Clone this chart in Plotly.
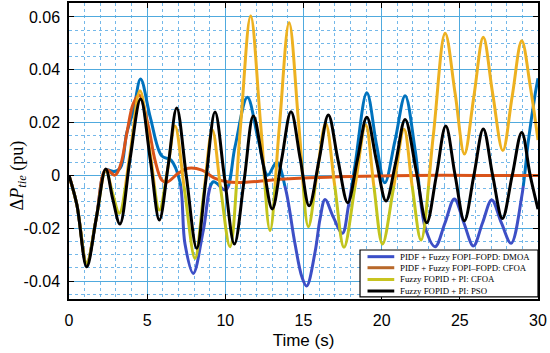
import plotly.graph_objects as go

# ---------------- data ----------------
t_dmoa = [0, 0.5, 1.13, 1.75, 2.35, 2.9, 3.3, 3.69, 4.12, 4.58, 5.2, 5.93, 6.53, 7.1, 7.42, 7.95,
          8.6, 9.23, 10.02, 10.62, 11.41, 12.11, 12.71, 13.29, 13.85, 14.45, 14.9, 15.2, 15.74,
          16.06, 16.38, 16.9, 17.49, 17.87, 18.3, 19.05, 19.68, 20.2, 20.86, 21.5, 22.14, 22.78,
          23.42, 24.05, 24.65, 25.26, 25.87, 26.45, 27.04, 27.66, 28.28, 28.96, 29.39, 29.82, 30]
y_dmoa = [0, -0.011, -0.0335, -0.016, 0.002, 0.0015, 0.003, 0.016, 0.0245, 0.0365, 0.022, 0.0074,
          0.0058, -0.0025, -0.026, -0.0371, -0.0205, -0.0024, -0.0055, 0.0109, 0.0296, 0.0134,
          0.0001, 0.005, -0.005, -0.0257, -0.0385, -0.0419, -0.029, -0.0164, -0.0091, -0.0157,
          -0.0219, -0.0118, 0.004, 0.0313, 0.0113, -0.0028, 0.0134, 0.0302, 0.0096, -0.0196,
          -0.027, -0.018, -0.0089, -0.018, -0.0267, -0.018, -0.0093, -0.018, -0.0257, -0.008,
          0.0134, 0.0308, 0.0368]

t_pidf_cfoa = [0, 0.5, 1.13, 1.75, 2.35, 2.94, 3.3, 3.7, 4.1, 4.48, 5.08, 5.5, 5.93, 6.25, 6.99,
               7.63, 8.5, 9.3, 10.2, 11.5, 13.0, 15.4, 18.0, 22.0, 26.0, 30.0]
y_pidf_cfoa = [0, -0.011, -0.0333, -0.016, 0.0022, 0.0001, 0.004, 0.016, 0.027, 0.0305, 0.0185,
               0.0058, -0.0017, -0.0026, 0.0008, 0.0027, 0.002, -0.001, -0.0025, -0.0025, -0.0017,
               -0.0009, -0.0004, 0.0, 0.0, 0.0]

t_fopid_cfoa = [0, 0.5, 1.13, 1.75, 2.35, 2.8, 3.22, 3.9, 4.54, 5.2, 5.78, 6.3, 6.78, 7.4, 8.06,
                8.6, 9.17, 9.7, 10.3, 10.95, 11.62, 12.25, 12.86, 13.45, 14.08, 14.7, 15.31, 15.85,
                16.42, 17.0, 17.59, 18.3, 18.98, 19.5, 20.05, 20.75, 21.43, 21.95, 22.52, 23.3,
                24.06, 24.7, 25.29, 25.9, 26.5, 27.1, 27.75, 28.35, 28.96, 29.5, 30]
y_fopid_cfoa = [0, -0.011, -0.0333, -0.016, 0.002, -0.007, -0.0143, 0.008, 0.0321, 0.008, -0.0131,
                0.002, 0.0187, -0.006, -0.0314, -0.008, 0.0172, -0.005, -0.027, 0.017, 0.0604,
                0.02, -0.0209, 0.018, 0.0578, 0.019, -0.0194, 0.0, 0.0197, -0.004, -0.0272,
                -0.004, 0.0191, -0.004, -0.026, -0.005, 0.0175, -0.004, -0.0245, 0.015, 0.0538,
                0.031, 0.0081, 0.030, 0.0523, 0.031, 0.0094, 0.030, 0.051, 0.034, 0.0134]

t_pso = [0, 0.5, 1.13, 1.75, 2.35, 2.8, 3.26, 3.9, 4.58, 5.2, 5.78, 6.35, 6.89, 7.5, 8.17, 8.75,
         9.34, 9.95, 10.58, 11.2, 11.79, 12.4, 13.0, 13.6, 14.2, 14.8, 15.36, 16.0, 16.59, 17.2,
         17.83, 18.45, 19.05, 19.65, 20.28, 20.9, 21.5, 22.2, 22.88, 23.5, 24.1, 24.7, 25.29,
         25.9, 26.5, 27.1, 27.72, 28.35, 28.96, 29.5, 30]
y_pso = [0, -0.011, -0.0346, -0.016, 0.0024, -0.009, -0.0184, 0.006, 0.0289, 0.006, -0.0169,
         0.004, 0.0255, 0.0, -0.0276, -0.002, 0.024, -0.001, -0.026, -0.002, 0.0225, 0.005,
         -0.0127, 0.006, 0.0241, 0.006, -0.0115, 0.006, 0.0229, 0.006, -0.0103, 0.006, 0.022,
         0.006, -0.0097, 0.005, 0.0212, 0.002, -0.0179, 0.0, 0.0187, 0.0, -0.0172, 0.0, 0.0176,
         0.0, -0.0163, 0.0, 0.0163, 0.0, -0.0128]

series_names = ["PIDF + Fuzzy FOPI\u2013FOPD: DMOA", "PIDF + Fuzzy FOPI\u2013FOPD: CFOA",
                "Fuzzy FOPID + PI: CFOA", "Fuzzy FOPID + PI: PSO"]
x_ticks = [0, 5, 10, 15, 20, 25, 30]
y_ticks_low = [-0.04, -0.02]
y_tick_labels_low = ["-0.04", "-0.02"]
y_ticks_high = [0, 0.02, 0.04, 0.06]
y_tick_labels_high = ["0", "0.02", "0.04", "0.06"]

# ---------------- styling ----------------
# the reference picture shows the curves in two tints: upper part and lower part
colors_upper = ["#0072BD", "#D95319", "#EDB120", "#000000"]
colors_lower = ["#3d4fc6", "#c8602a", "#c2c41c", "#000000"]
legend_colors = ["#3a4fc8", "#b8682a", "#c8c420", "#000000"]
series = [(t_dmoa, y_dmoa), (t_pidf_cfoa, y_pidf_cfoa), (t_fopid_cfoa, y_fopid_cfoa), (t_pso, y_pso)]

Y_MIN, Y_MAX, Y_SPLIT = -0.0468, 0.0653, -0.004
split_frac = (Y_SPLIT - Y_MIN) / (Y_MAX - Y_MIN)

fig = go.Figure()
for (tx, ty), name, cu, cl in zip(series, series_names, colors_upper, colors_lower):
    fig.add_trace(go.Scatter(x=tx, y=ty, mode="lines", name=name, xaxis="x", yaxis="y",
                             line=dict(color=cl, width=3, shape="spline", smoothing=1.0),
                             showlegend=False, hoverinfo="skip"))
    fig.add_trace(go.Scatter(x=tx, y=ty, mode="lines", name=name, xaxis="x2", yaxis="y2",
                             line=dict(color=cu, width=3, shape="spline", smoothing=1.0),
                             showlegend=False, hoverinfo="skip"))

grid_major = "rgb(80,170,222)"
grid_minor = "rgba(70,160,225,0.75)"
tick_font = dict(family="Liberation Sans, Arial", size=16, color="black")

x_common = dict(range=[0, 30], tickvals=x_ticks, showgrid=True, gridcolor=grid_major, gridwidth=1,
                minor=dict(dtick=1, showgrid=True, gridcolor=grid_minor, griddash="dot", gridwidth=1),
                showline=True, linecolor="black", linewidth=1.5, mirror=False,
                ticks="inside", ticklen=5, tickcolor="black", tickwidth=1.2, zeroline=False,
                domain=[0, 1])
y_common = dict(showgrid=True, gridcolor=grid_major, gridwidth=1,
                minor=dict(dtick=0.005, tick0=0, showgrid=True, gridcolor=grid_minor, griddash="dot", gridwidth=1),
                showline=True, linecolor="black", linewidth=1.5, mirror="ticks",
                ticks="inside", ticklen=5, tickcolor="black", tickwidth=1.2, zeroline=False,
                tickfont=tick_font, ticklabelstandoff=4)

fig.update_layout(
    xaxis=dict(**x_common, anchor="y", tickfont=tick_font, ticklabelstandoff=6,
               title=dict(text="Time (s)", font=dict(family="Liberation Sans, Arial", size=17, color="black"),
                          standoff=6)),
    xaxis2=dict(**x_common, anchor="y2", side="top", showticklabels=False),
    yaxis=dict(**y_common, anchor="x", domain=[0, split_frac], range=[Y_MIN, Y_SPLIT],
               tickvals=y_ticks_low, ticktext=y_tick_labels_low),
    yaxis2=dict(**y_common, anchor="x2", domain=[split_frac, 1], range=[Y_SPLIT, Y_MAX],
                tickvals=y_ticks_high, ticktext=y_tick_labels_high),
)

# y-axis title (spans both halves)
annotations = [dict(xref="paper", yref="paper", x=-0.1087, y=(0 - Y_MIN) / (Y_MAX - Y_MIN),
                    text="\u0394<i>P</i><sub><i>tie</i></sub> (pu)", textangle=-90, showarrow=False,
                    xanchor="center", yanchor="middle",
                    font=dict(family="Liberation Serif, Times New Roman", size=18, color="black"))]

# manual legend (compact, as in the reference)
lx0, lx1 = 0.6205, 1.0
ly0, ly1 = 0.007, 0.1655
rows_y = [0.143, 0.1057, 0.0659, 0.027]
shapes = [dict(type="rect", xref="paper", yref="paper", x0=lx0, x1=lx1, y0=ly0, y1=ly1,
               fillcolor="white", line=dict(color="black", width=1.2), layer="above")]
for ry, name, col in zip(rows_y, series_names, legend_colors):
    shapes.append(dict(type="line", xref="paper", yref="paper", x0=0.6365, x1=0.6935, y0=ry, y1=ry,
                       line=dict(color=col, width=3), layer="above"))
    annotations.append(dict(xref="paper", yref="paper", x=0.702, y=ry, text=name, showarrow=False,
                            xanchor="left", yanchor="middle",
                            font=dict(family="Liberation Serif, Times New Roman", size=8.8, color="black")))

fig.update_layout(width=550, height=353, margin=dict(l=69, r=12, t=3, b=54),
                  plot_bgcolor="white", paper_bgcolor="white", showlegend=False,
                  shapes=shapes, annotations=annotations)

fig.write_html("out.html", config={"displayModeBar": False},
               post_script="document.body.style.margin='0';document.body.style.padding='0';")
